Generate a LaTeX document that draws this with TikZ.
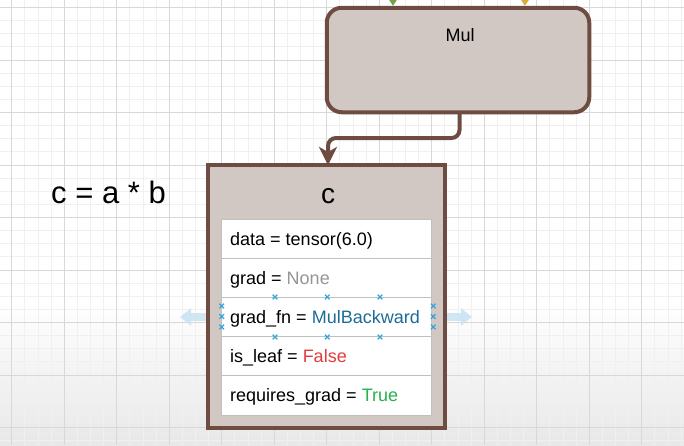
\documentclass[tikz,border=0pt]{standalone}
\usepackage{fontspec}
\setmainfont{Liberation Sans}
\usetikzlibrary{arrows.meta,calc}
\definecolor{brownb}{RGB}{110,76,66}
\definecolor{boxfill}{RGB}{209,199,195}
\definecolor{tablegray}{RGB}{192,192,192}
\definecolor{nonegray}{RGB}{150,150,150}
\definecolor{mulblue}{RGB}{30,108,150}
\definecolor{falsered}{RGB}{225,60,60}
\definecolor{truegreen}{RGB}{40,175,80}
\definecolor{xblue}{RGB}{55,165,220}
\definecolor{fadeblue}{RGB}{205,228,243}
\definecolor{gridmajor}{RGB}{216,216,216}
\definecolor{gridminor}{RGB}{240,240,240}
\definecolor{topgreen}{RGB}{110,165,70}
\definecolor{topyellow}{RGB}{215,175,55}
\tikzset{
  minorgrid/.style={draw=gridminor, line width=0.8pt},
  majorgrid/.style={draw=gridmajor, line width=0.9pt},
  opbox/.style={draw=brownb, fill=boxfill, line width=4pt, rounded corners=15pt, outer sep=0pt, inner sep=0pt},
  varbox/.style={draw=brownb, fill=boxfill, line width=4.5pt, outer sep=0pt, inner sep=0pt},
  rowbox/.style={draw=tablegray, fill=white, line width=1pt, minimum width=210pt, minimum height=39.2pt, inner sep=0pt, outer sep=0pt},
  rowtext/.style={anchor=base west, inner sep=0pt, font=\fontsize{18}{20}\selectfont},
  conn/.style={draw=brownb, line width=4pt, rounded corners=8pt, -{Stealth[length=18pt,width=18pt,inset=5pt]}},
  xmark/.style={draw=xblue, line width=1.3pt},
  fadearrow/.style={draw=fadeblue, line width=8pt, -{Triangle[length=11pt,width=17pt]}, opacity=0.9},
  toparrowg/.style={draw=topgreen, line width=1pt, -{Triangle[length=7pt,width=9pt]}},
  toparrowy/.style={draw=topyellow, line width=1pt, -{Triangle[length=7pt,width=9pt]}},
}
\begin{document}
\begin{tikzpicture}[x=1pt,y=-1pt]
\useasboundingbox (0,0) rectangle (684,445);
% background
\fill[white] (0,0) rectangle (684,445);
\shade[top color=white, bottom color=black!9] (0,300) rectangle (684,445);
\foreach \i in {0,...,52} {
  \draw[minorgrid] ({11.7+13.125*\i},0) -- ({11.7+13.125*\i},445);
}
\foreach \i in {0,...,34} {
  \draw[minorgrid] (0,{7.5+13.125*\i}) -- (684,{7.5+13.125*\i});
}
\foreach \i in {0,...,13} {
  \draw[majorgrid] ({11.7+52.5*\i},0) -- ({11.7+52.5*\i},445);
}
\foreach \i in {0,...,8} {
  \draw[majorgrid] (0,{7.5+52.5*\i}) -- (684,{7.5+52.5*\i});
}

% equation
\node[anchor=base west, inner sep=0pt, font=\fontsize{31}{34}\selectfont] (eq) at (51,203) {c = a * b};

% Mul operation box
\node[opbox, minimum width=262.5pt, minimum height=104.5pt] (mul) at (458,60) {};
\node[anchor=base, inner sep=0pt, font=\fontsize{18}{20}\selectfont] (mullabel) at (460,41) {Mul};

% incoming arrow heads at the top
\coordinate (ga) at (393,-3);
\coordinate (ya) at (525,-3);
\draw[toparrowg] (ga) -- ([yshift=2pt]ga |- mul.north);
\draw[toparrowy] (ya) -- ([yshift=2pt]ya |- mul.north);

% faded arrows (behind c box)
\coordinate (la) at (180,317);
\coordinate (ra) at (472,317);
\coordinate (lb) at (214,317);
\coordinate (rb) at (440,317);
\draw[fadearrow] (lb) -- (la);
\draw[fadearrow] (rb) -- (ra);

% variable box c
\node[varbox, minimum width=237pt, minimum height=263pt] (cbox) at (326.5,296.5) {};
\node[anchor=base, inner sep=0pt, font=\fontsize{28}{30}\selectfont] (ctitle) at (328,203.3) {c};

% table rows
\node[rowbox] (r1) at (326.7,238.6) {};
\node[rowbox] (r2) at (326.7,277.8) {};
\node[rowbox] (r3) at (326.7,317.0) {};
\node[rowbox] (r4) at (326.7,356.2) {};
\node[rowbox] (r5) at (326.7,395.4) {};
\node[rowtext] (t1) at (230,245) {data = tensor(6.0)};
\node[rowtext] (t2) at (230,284.2) {grad = \textcolor{nonegray}{None}};
\node[rowtext] (t3) at (230,323.4) {grad\_fn = \textcolor{mulblue}{MulBackward}};
\node[rowtext] (t4) at (230,362.6) {is\_leaf = \textcolor{falsered}{False}};
\node[rowtext] (t5) at (230,401.8) {requires\_grad = \textcolor{truegreen}{True}};

% selection markers on grad_fn row
\foreach \px in {275,327.3,380} {
  \draw[xmark] (\px-2.3,297-2.3) -- (\px+2.3,297+2.3) (\px-2.3,297+2.3) -- (\px+2.3,297-2.3);
  \draw[xmark] (\px-2.3,337-2.3) -- (\px+2.3,337+2.3) (\px-2.3,337+2.3) -- (\px+2.3,337-2.3);
}
\foreach \py in {306,316.5,327} {
  \draw[xmark] (221.7-2.3,\py-2.3) -- (221.7+2.3,\py+2.3) (221.7-2.3,\py+2.3) -- (221.7+2.3,\py-2.3);
  \draw[xmark] (433.3-2.3,\py-2.3) -- (433.3+2.3,\py+2.3) (433.3-2.3,\py+2.3) -- (433.3+2.3,\py-2.3);
}

% connector Mul -> c
\draw[conn] ([xshift=1.5pt]mul.south) -- ([xshift=1.5pt]mul.south |- 0,138) -- ([xshift=1.5pt]cbox.north |- 0,138) -- ([xshift=1.5pt]cbox.north);
\end{tikzpicture}
\end{document}
